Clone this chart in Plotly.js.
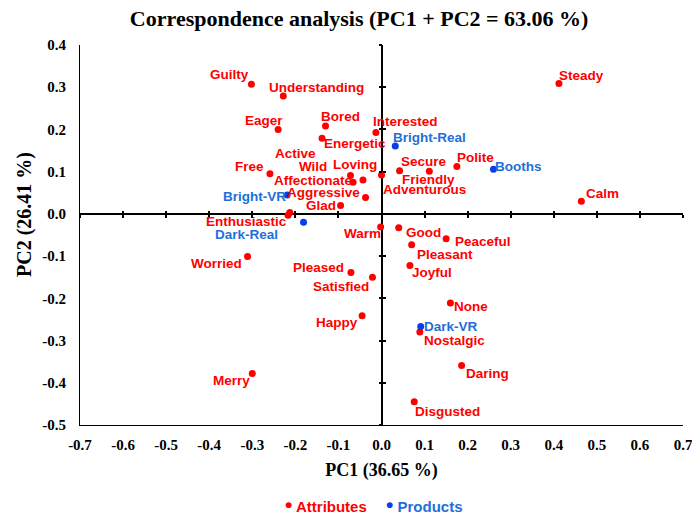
<!DOCTYPE html>
<html>
<head>
<meta charset="utf-8">
<script src="https://cdn.plot.ly/plotly-3.0.1.min.js"></script>
<style>html,body{margin:0;padding:0;background:#fff;}#chart{width:692px;height:515px;}</style>
</head>
<body>
<div id="chart"></div>
<script>
// ---- Data ----
const attrNames = ["Guilty","Understanding","Eager","Bored","Interested","Energetic","Active","Free","Wild","Loving","Affectionate","Aggressive","Glad","Adventurous","Secure","Friendly","Polite","Steady","Calm","Enthusiastic","Warm","Good","Peaceful","Pleasant","Joyful","Worried","Pleased","Satisfied","Happy","None","Nostalgic","Daring","Merry","Disgusted"];
const attrPC1 = [-0.302,-0.228,-0.240,-0.130,-0.013,-0.138,-0.213,-0.259,-0.072,-0.043,-0.066,-0.037,-0.095,0.000,0.042,0.111,0.175,0.412,0.464,-0.217,-0.002,0.040,0.150,0.070,0.066,-0.311,-0.071,-0.021,-0.045,0.160,0.089,0.186,-0.300,0.076];
const attrPC2 = [0.307,0.279,0.200,0.208,0.193,0.179,0.003,0.095,0.091,0.080,0.075,0.039,0.020,0.092,0.102,0.101,0.112,0.309,0.030,-0.003,-0.031,-0.033,-0.059,-0.073,-0.122,-0.101,-0.139,-0.150,-0.241,-0.211,-0.280,-0.359,-0.378,-0.445];

const prodNames = ["Bright-Real","Booths","Bright-VR","Dark-Real","Dark-VR"];
const prodPC1 = [0.032,0.260,-0.219,-0.181,0.091];
const prodPC2 = [0.161,0.106,0.045,-0.020,-0.267];

const seriesNames = ["Attributes","Products"];

const xTickVals = [-0.7,-0.6,-0.5,-0.4,-0.3,-0.2,-0.1,0,0.1,0.2,0.3,0.4,0.5,0.6,0.7];
const xTickText = ["-0.7","-0.6","-0.5","-0.4","-0.3","-0.2","-0.1","0.0","0.1","0.2","0.3","0.4","0.5","0.6","0.7"];
const yTickVals = [-0.5,-0.4,-0.3,-0.2,-0.1,0,0.1,0.2,0.3,0.4];
const yTickText = ["-0.5","-0.4","-0.3","-0.2","-0.1","0.0","0.1","0.2","0.3","0.4"];

// ---- Label placement (pixel offsets of label centre from its point; styling only) ----
const attrLabelDX = [-22,33,-14,15,29.5,32.5,5.5,-20,-37.7,-8.3,-40.3,-42.2,-20,42.6,24,-1,19,23,21.5,-41.7,-18.2,24.5,36.7,33.3,21.7,-31.2,-32.1,-31.5,-25.6,20.6,34.7,25.8,-20.8,33.5];
const attrLabelDY = [-10,-9,-9,-10,-10.6,5,-59.4,-7.3,-9,-15.7,-2.2,-4.5,0,14.7,-9,8.2,-9,-7.6,-7.3,6.6,6.7,4.3,3,9.3,7,6.6,-4.7,9.4,7.3,3.4,8.4,7.7,7,9.7];
const prodLabelDX = [34,25.3,-32.2,-57.2,30];
const prodLabelDY = [-8.3,-2.3,1.7,12.2,0];

const RED = "#ff0000";
const BLUE_DOT = "#0a3cf0";
const BLUE_TXT = "#1f6fd8";
const SERIF = "Liberation Serif, DejaVu Serif, serif";
const SANS = "Liberation Sans, Arial, sans-serif";

const traces = [
  {x: attrPC1, y: attrPC2, type: "scatter", mode: "markers", name: seriesNames[0],
   marker: {color: RED, size: 7}, hoverinfo: "skip"},
  {x: prodPC1, y: prodPC2, type: "scatter", mode: "markers", name: seriesNames[1],
   marker: {color: BLUE_DOT, size: 7}, hoverinfo: "skip"},
  {x: [], y: [], xaxis: "x2", yaxis: "y", showlegend: false, hoverinfo: "skip"},
  {x: [], y: [], xaxis: "x3", yaxis: "y", showlegend: false, hoverinfo: "skip"},
  {x: [], y: [], xaxis: "x", yaxis: "y2", showlegend: false, hoverinfo: "skip"},
  {x: [], y: [], xaxis: "x", yaxis: "y3", showlegend: false, hoverinfo: "skip"}
];

const annotations = [];
attrNames.forEach((n, i) => annotations.push({
  x: attrPC1[i], y: attrPC2[i], text: n, showarrow: false,
  xanchor: "center", yanchor: "middle", xshift: attrLabelDX[i], yshift: -attrLabelDY[i],
  font: {family: SANS, size: 13.5, color: RED, weight: "bold"}
}));
prodNames.forEach((n, i) => annotations.push({
  x: prodPC1[i], y: prodPC2[i], text: n, showarrow: false,
  xanchor: "center", yanchor: "middle", xshift: prodLabelDX[i], yshift: -prodLabelDY[i],
  font: {family: SANS, size: 13.5, color: BLUE_TXT, weight: "bold"}
}));
// legend drawn as text: bullet + series name, in series colour
const legendColors = [RED, BLUE_DOT];
const legendTextColors = [RED, BLUE_TXT];
const legendX = [0.336, 0.504];
seriesNames.forEach((n, i) => annotations.push({
  xref: "paper", yref: "paper", x: legendX[i], y: -0.208, xanchor: "left", yanchor: "middle", showarrow: false,
  text: '<span style="font-size:21px;color:' + legendColors[i] + '">•</span> ' + n,
  font: {family: SANS, size: 15, color: legendTextColors[i], weight: "bold"}
}));
// y-axis title
annotations.push({
  xref: "paper", yref: "paper", x: -0.091, y: 0.553, xanchor: "center", yanchor: "middle", showarrow: false,
  textangle: -90, text: "PC2 (26.41 %)",
  font: {family: SERIF, size: 20, color: "#000", weight: "bold"}
});

const XR = [-0.7, 0.7], YR = [-0.5, 0.4];
const crossX = {overlaying: "x", anchor: "free", position: (0 - YR[0]) / (YR[1] - YR[0]), range: XR,
  tickvals: xTickVals, ticklen: 3, tickwidth: 2, tickcolor: "#000", showticklabels: false,
  showline: false, showgrid: false, zeroline: false, fixedrange: true};
const crossY = {overlaying: "y", anchor: "free", position: (0 - XR[0]) / (XR[1] - XR[0]), range: YR,
  tickvals: yTickVals, ticklen: 3, tickwidth: 2, tickcolor: "#000", showticklabels: false,
  showline: false, showgrid: false, zeroline: false, fixedrange: true};

const layout = {
  width: 692, height: 515,
  margin: {l: 80, r: 9, t: 45, b: 90},
  paper_bgcolor: "#fff", plot_bgcolor: "#fff",
  title: {text: "Correspondence analysis (PC1 + PC2 = 63.06 %)", x: 0.519, xref: "container", xanchor: "center",
          y: 0.965, yref: "container", yanchor: "middle",
          font: {family: SERIF, size: 22, color: "#000", weight: "bold"}},
  xaxis: {range: XR, tickvals: xTickVals, ticktext: xTickText, ticks: "outside", ticklen: 6, tickcolor: "rgba(0,0,0,0)",
          ticklabeloverflow: "allow",
          showgrid: false, zeroline: true, zerolinecolor: "#000", zerolinewidth: 2,
          showline: true, linecolor: "#000", linewidth: 1,
          tickfont: {family: SERIF, size: 15, color: "#000", weight: "bold"},
          title: {text: "PC1 (36.65 %)", font: {family: SERIF, size: 18, color: "#000", weight: "bold"}, standoff: 11},
          fixedrange: true},
  yaxis: {range: YR, tickvals: yTickVals, ticktext: yTickText, ticks: "outside", ticklen: 10, tickcolor: "rgba(0,0,0,0)",
          ticklabeloverflow: "allow",
          showgrid: false, zeroline: true, zerolinecolor: "#000", zerolinewidth: 2,
          showline: true, linecolor: "#000", linewidth: 1,
          tickfont: {family: SERIF, size: 15, color: "#000", weight: "bold"},
          fixedrange: true},
  xaxis2: Object.assign({}, crossX, {ticks: "outside"}),
  xaxis3: Object.assign({}, crossX, {ticks: "inside"}),
  yaxis2: Object.assign({}, crossY, {ticks: "outside"}),
  yaxis3: Object.assign({}, crossY, {ticks: "inside"}),
  showlegend: false,
  annotations: annotations
};

Plotly.newPlot("chart", traces, layout, {displayModeBar: false, staticPlot: true});
</script>
</body>
</html>
